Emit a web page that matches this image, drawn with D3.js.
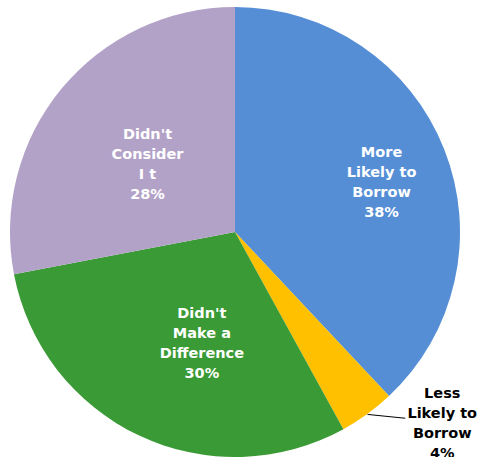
<!DOCTYPE html>
<html>
<head>
<meta charset="utf-8">
<script src="https://cdn.jsdelivr.net/npm/d3@7"></script>
<style>
  body { margin: 0; background: #fff; }
  svg { display: block; }
  text { font-family: "DejaVu Sans", Verdana, sans-serif; font-weight: bold; }
</style>
</head>
<body>
<svg id="viz" width="487" height="457"></svg>
<script>
// chart data
var categories = ["More Likely to Borrow", "Less Likely to Borrow", "Didn't Make a Difference", "Didn't Consider It"];
var values = [38, 4, 30, 28];
var labelLines = [
    ["More", "Likely to", "Borrow"],
    ["Less", "Likely to", "Borrow"],
    ["Didn't", "Make a", "Difference"],
    ["Didn't", "Consider", "I t"]
];
var colors = ["#558ed5", "#ffc000", "#3a9a35", "#b3a2c7"];

var svg = d3.select("#viz"),
    cx = 235,
    cy = 232,
    radius = 225,
    lineH = 20;

// label placement: radius from center and angle nudge (degrees)
var labelPos = [
    { r: 155, da: 2.6, outside: false },
    { r: 282, da: -11.3, outside: true },
    { r: 116, da: -8.6, outside: false },
    { r: 111, da: -1.6, outside: false }
];

var g = svg.append("g").attr("transform", "translate(" + cx + "," + cy + ")");

var pie = d3.pie().sort(null).value(d => d);
var arcs = pie(values);
var arc = d3.arc().innerRadius(0).outerRadius(radius);

g.selectAll("path.slice")
    .data(arcs)
    .enter().append("path")
    .attr("class", "slice")
    .attr("d", arc)
    .style("fill", (d, i) => colors[i]);

function polar(r, a) {
    return [r * Math.sin(a), -r * Math.cos(a)];
}

arcs.forEach(function(d, i) {
    var mid = (d.startAngle + d.endAngle) / 2;
    var p = labelPos[i];
    var pt = polar(p.r, mid + p.da * Math.PI / 180);
    var lines = labelLines[i].concat([d.value + "%"]);

    if (p.outside) {
        var s = polar(radius + 0.5, mid);
        g.append("path")
            .attr("d", "M" + s[0] + "," + s[1] + "L" + (pt[0] - 37) + "," + (pt[1] - 5))
            .style("stroke", "#000")
            .style("stroke-width", 1)
            .style("fill", "none");
    }

    var t = g.append("text")
        .attr("text-anchor", "middle")
        .style("font-size", "14.5px")
        .style("fill", p.outside ? "#000" : "#fff");
    lines.forEach(function(l, j) {
        t.append("tspan")
            .attr("x", pt[0])
            .attr("y", pt[1] + (j - (lines.length - 1) / 2) * lineH)
            .attr("dy", "0.35em")
            .text(l);
    });
});
</script>
</body>
</html>
